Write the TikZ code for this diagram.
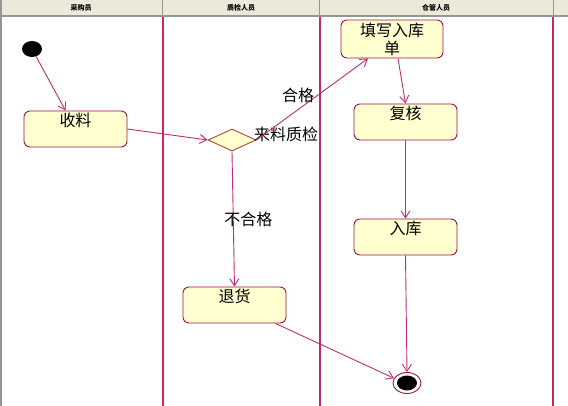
\documentclass[tikz,border=0pt]{standalone}
\usepackage{fontspec}
\setmainfont{Noto Sans CJK SC}
\usetikzlibrary{shapes.geometric, arrows.meta}
\definecolor{headbg}{RGB}{236,233,216}
\definecolor{headline}{RGB}{150,150,150}
\definecolor{lanered}{RGB}{200,40,100}
\definecolor{boxred}{RGB}{160,20,70}
\definecolor{boxfill}{RGB}{255,255,208}
\definecolor{flowred}{RGB}{190,45,115}
\definecolor{diabrown}{RGB}{170,70,50}
\begin{document}
\begin{tikzpicture}[x=1pt, y=-1pt, >={Straight Barb[length=7pt, width=9pt]},
    act/.style={draw=boxred, line width=0.9pt, fill=boxfill, rounded corners=6pt, minimum width=103pt,
      inner ysep=2pt, text height=14pt, text depth=18pt, font=\fontsize{16}{18}\selectfont},
    flow/.style={->, flowred, line width=0.9pt},
    lanehead/.style={font=\fontsize{7}{8}\selectfont\bfseries},
    guard/.style={text=black, font=\fontsize{16}{18}\selectfont}]
  \useasboundingbox (0,0) rectangle (568,406);
  % swimlane header
  \fill[headbg] (0,0) rectangle (568,16);
  \draw[headline, line width=1.5pt] (0,16) -- (568,16);
  \foreach \x in {162, 319, 553}
    \draw[headline, line width=1pt] (\x,0) -- (\x,16);
  \node[lanehead] (buyer) at (81,8) {采购员};
  \node[lanehead] (qc) at (241,8) {质检人员};
  \node[lanehead] (keeper) at (436,8) {仓管人员};
  % lanes
  \foreach \x in {163, 320, 553}
    \draw[lanered, line width=1.1pt] (\x,17) -- (\x,406);
  \draw[headline, line width=1.5pt] (0.75,0) -- (0.75,406);

  % nodes
  \node[ellipse, fill=black, minimum width=20pt, minimum height=16pt, inner sep=0] (start) at (32,49) {};
  \node[act] (receive) at (75.5,129) {收料};
  \node[diamond, draw=diabrown, line width=0.9pt, fill=boxfill, minimum width=48pt, minimum height=22pt, inner sep=0] (check) at (232,140) {};
  \node[guard] (checklbl) at (286,134) {来料质检};
  \node[act, minimum width=102pt, minimum height=38pt, text height=, text depth=, inner sep=2pt, align=center] (fillin) at (392,39) {填写入库\\单};
  \node[act] (review) at (405.5,122) {复核};
  \node[act] (store) at (405.5,237) {入库};
  \node[act] (reject) at (234.5,305) {退货};
  \node[ellipse, draw=boxred, line width=0.9pt, fill=white, minimum width=28pt, minimum height=21pt, inner sep=0] (end) at (407,383) {};
  \fill (end) ellipse (10pt and 7.5pt);

  % flows
  \draw[flow] (start) -- ([xshift=-10pt]receive.north);
  \draw[flow] (receive.east) -- (check.west);
  \draw[flow] (check.east) -- node[guard, pos=0.55, left] {合格} ([xshift=-24pt]fillin.south);
  \draw[flow] (check.south) -- node[guard, pos=0.5, xshift=15pt] {不合格} (reject.north);
  \draw[flow] ([xshift=6pt]fillin.south) -- (review.north);
  \draw[flow] (review.south) -- (store.north);
  \draw[flow] (store.south) -- (end.north);
  \draw[flow] ([xshift=-11pt]reject.south east) -- (end.160);
\end{tikzpicture}
\end{document}
